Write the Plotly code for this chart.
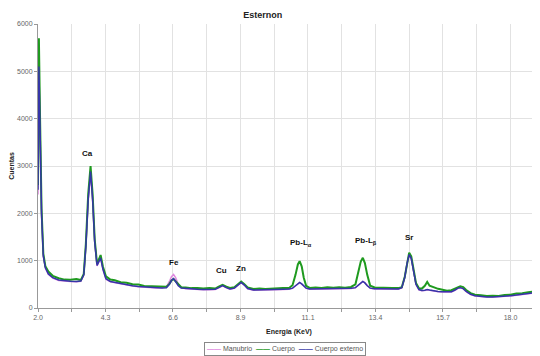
import plotly.graph_objects as go

energia = [2.00, 2.03, 2.07, 2.12, 2.18, 2.25, 2.35, 2.5, 2.7, 2.9, 3.1, 3.3, 3.45, 3.55, 3.62, 3.7, 3.78, 3.85, 3.92, 4.0,
           4.06, 4.12, 4.2, 4.3, 4.45, 4.6, 4.8, 5.0, 5.2, 5.4, 5.6, 5.8, 6.0, 6.2, 6.35, 6.45, 6.52, 6.59, 6.66, 6.75,
           6.85, 7.0, 7.2, 7.4, 7.6, 7.8, 8.0, 8.12, 8.25, 8.38, 8.5, 8.65, 8.78, 8.88, 8.98, 9.1, 9.3, 9.5, 9.7, 9.9,
           10.1, 10.3, 10.5, 10.62, 10.72, 10.8, 10.86, 10.93, 11.0, 11.08, 11.2, 11.4, 11.6, 11.8, 12.0, 12.2, 12.4, 12.6, 12.75, 12.85,
           12.93, 13.0, 13.07, 13.15, 13.25, 13.4, 13.6, 13.8, 14.0, 14.2, 14.32, 14.42, 14.5, 14.57, 14.64, 14.72, 14.8, 14.9, 15.0, 15.1,
           15.18, 15.26, 15.4, 15.55, 15.7, 15.85, 16.0, 16.12, 16.22, 16.3, 16.4, 16.5, 16.65, 16.8, 17.0, 17.2, 17.4, 17.6, 17.8, 18.0,
           18.2, 18.4, 18.6, 18.8, 18.9, 19.0]

cuerpo_externo = [2500, 5100, 3800, 2000, 1100, 850, 720, 640, 590, 570, 565, 560, 570, 700, 1300, 2300, 2880, 2300, 1400, 900,
                  980, 1060, 820, 620, 560, 540, 515, 490, 470, 455, 445, 435, 430, 425, 430, 500, 580, 620, 560, 470,
                  420, 410, 400, 395, 390, 390, 395, 430, 475, 430, 400, 420, 500, 540, 490, 410, 380, 380, 385, 385,
                  390, 395, 400, 420, 470, 520, 540, 510, 460, 420, 400, 400, 405, 405, 410, 410, 410, 415, 430, 480,
                  540, 560, 530, 470, 420, 405, 405, 405, 400, 400, 430, 650, 950, 1130, 1050, 750, 500, 390, 370, 375,
                  390, 380, 360, 350, 345, 340, 345, 380, 420, 430, 410, 350, 290, 260, 245, 235, 235, 240, 245, 260,
                  275, 290, 305, 325, 345, 400]

cuerpo = [2600, 5700, 4000, 2100, 1150, 880, 770, 680, 630, 600, 595, 610, 590, 720, 1350, 2400, 3000, 2400, 1450, 930,
          1020, 1120, 870, 670, 600, 585, 545, 535, 500, 495, 465, 465, 450, 455, 450, 510, 580, 610, 560, 490,
          440, 435, 420, 425, 410, 420, 410, 450, 490, 450, 425, 440, 520, 560, 505, 435, 400, 410, 400, 410,
          405, 420, 420, 480, 700, 920, 990, 880, 640, 470, 425, 435, 425, 440, 430, 440, 430, 445, 500, 750,
          980, 1060, 950, 700, 470, 435, 425, 430, 420, 420, 440, 660, 980, 1170, 1090, 780, 530, 420, 410, 470,
          550, 470, 435, 405, 385, 365, 375, 410, 450, 460, 440, 380, 315, 280, 270, 255, 260, 255, 275, 280,
          305, 310, 335, 345, 375, 420]

manubrio = [2400, 5000, 3700, 1950, 1080, 840, 710, 630, 580, 565, 560, 555, 565, 690, 1280, 2250, 2850, 2250, 1380, 890,
            970, 1050, 810, 610, 555, 535, 510, 485, 465, 450, 440, 430, 425, 430, 450, 560, 660, 710, 640, 500,
            430, 405, 395, 390, 385, 385, 390, 425, 470, 425, 395, 415, 495, 535, 485, 405, 375, 375, 380, 380,
            385, 390, 395, 415, 465, 515, 535, 505, 455, 415, 395, 395, 400, 400, 405, 405, 405, 410, 425, 480,
            540, 560, 530, 470, 415, 400, 400, 400, 395, 395, 425, 640, 940, 1120, 1040, 740, 495, 385, 365, 370,
            385, 375, 355, 345, 340, 335, 340, 375, 415, 425, 405, 345, 285, 255, 240, 230, 230, 235, 240, 255,
            270, 285, 300, 320, 340, 395]

tick_vals = [2.0, 2.0 + 16 / 7, 2.0 + 32 / 7, 2.0 + 48 / 7, 2.0 + 64 / 7, 2.0 + 80 / 7, 2.0 + 96 / 7, 18.0]
tick_text = ["2.0", "4.3", "6.6", "8.9", "11.1", "13.4", "15.7", "18.0"]

peak_labels = ["Ca", "Fe", "Cu", "Zn", "Pb-L<sub>α</sub>", "Pb-L<sub>β</sub>", "Sr"]
peak_x = [3.68, 6.59, 8.22, 8.89, 10.89, 13.1, 14.58]
peak_y = [3270, 970, 800, 845, 1370, 1410, 1500]

series_names = ["Manubrio", "Cuerpo", "Cuerpo externo"]
series_colors = ["#e08ae0", "#1f9a1f", "#3535a8"]
series_widths = [1.5, 2, 1.5]
series_values = [manubrio, cuerpo, cuerpo_externo]

FONT = "Liberation Sans, Arial, sans-serif"

fig = go.Figure()
for name, color, w, vals in zip(series_names, series_colors, series_widths, series_values):
    fig.add_trace(go.Scatter(x=energia, y=vals, mode="lines", name=name,
                             line=dict(color=color, width=w)))

for t, px, py in zip(peak_labels, peak_x, peak_y):
    fig.add_annotation(x=px, y=py, text="<b>" + t + "</b>", showarrow=False,
                       font=dict(family=FONT, size=8, color="#111111"))

# compact legend box (as in the reference)
legend_text = "&nbsp;&nbsp;".join(
    '<span style="color:%s"><b>——</b></span> %s' % (c, n) for n, c in zip(series_names, series_colors)
)
fig.add_annotation(xref="paper", yref="paper", x=0.493, y=-0.144, xanchor="center", yanchor="middle",
                   text=legend_text, showarrow=False, bordercolor="#888888", borderwidth=1, borderpad=2,
                   bgcolor="white", font=dict(family=FONT, size=7, color="#555555"))

# page body keeps an 8px margin, so the figure is 8px smaller than the window
fig.update_layout(
    width=532, height=348,
    margin=dict(l=30, r=0, t=16, b=48, autoexpand=False),
    paper_bgcolor="white", plot_bgcolor="white",
    font=dict(family=FONT, size=7, color="#666666"),
    title=dict(text="<b>Esternon</b>", x=0.479, xanchor="center", xref="container",
               y=1 - 7 / 348, yanchor="middle", yref="container",
               font=dict(family=FONT, size=9, color="#222222")),
    showlegend=False,
    xaxis=dict(range=[2.0, 19.0], tickvals=tick_vals, ticktext=tick_text, automargin=False,
               showgrid=True, gridcolor="#e2e2e2", gridwidth=1,
               showline=True, linecolor="#999999", linewidth=1,
               ticks="outside", ticklen=3, tickcolor="#999999",
               minor=dict(tick0=2.0, dtick=8 / 7, showgrid=True, gridcolor="#e2e2e2",
                          ticks="outside", ticklen=3, tickcolor="#999999"),
               zeroline=False,
               title=dict(text="<b>Energia (KeV)</b>", standoff=8,
                          font=dict(family=FONT, size=7, color="#222222"))),
    yaxis=dict(range=[0, 6000], dtick=1000, showgrid=True, gridcolor="#e2e2e2", automargin=False,
               showline=True, linecolor="#999999", linewidth=1,
               ticks="outside", ticklen=3, tickcolor="#999999",
               zeroline=False,
               title=dict(text="<b>Cuentas</b>", standoff=2,
                          font=dict(family=FONT, size=7, color="#222222"))),
)

fig.write_html("out.html")
